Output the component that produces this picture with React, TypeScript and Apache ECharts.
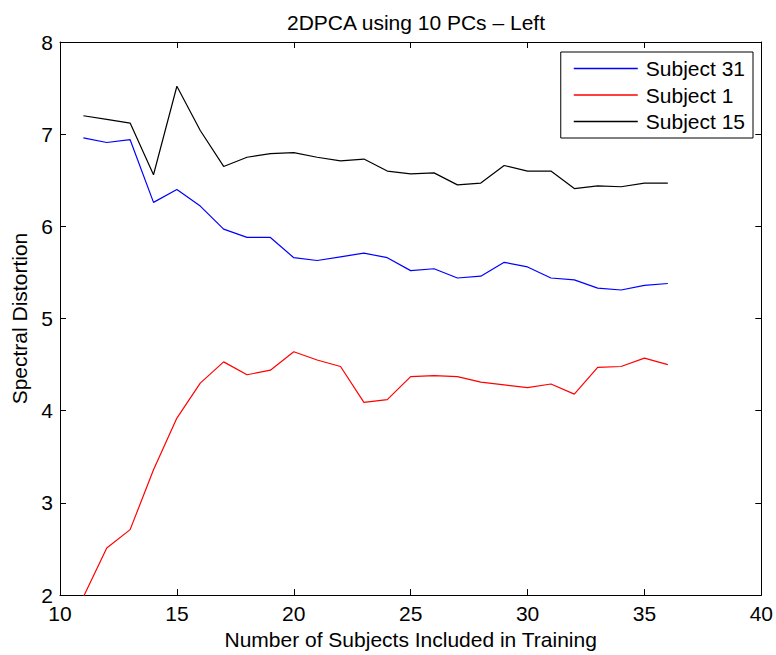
import React, { useEffect, useRef } from "react";
import * as echarts from "echarts";

const subjectsX = [11, 12, 13, 14, 15, 16, 17, 18, 19, 20, 21, 22, 23, 24, 25, 26, 27, 28, 29, 30, 31, 32, 33, 34, 35, 36];
const subject31 = [6.96, 6.91, 6.94, 6.26, 6.4, 6.22, 5.97, 5.88, 5.88, 5.66, 5.63, 5.67, 5.71, 5.66, 5.52, 5.54, 5.44, 5.46, 5.61, 5.56, 5.44, 5.42, 5.33, 5.31, 5.36, 5.38];
const subject1 = [1.98, 2.51, 2.71, 3.36, 3.92, 4.3, 4.53, 4.39, 4.44, 4.64, 4.55, 4.48, 4.09, 4.12, 4.37, 4.38, 4.37, 4.31, 4.28, 4.25, 4.29, 4.18, 4.47, 4.48, 4.57, 4.5];
const subject15 = [7.2, 7.16, 7.12, 6.56, 7.52, 7.04, 6.65, 6.75, 6.79, 6.8, 6.75, 6.71, 6.73, 6.6, 6.57, 6.58, 6.45, 6.47, 6.66, 6.6, 6.6, 6.41, 6.44, 6.43, 6.47, 6.47];
const seriesNames = ["Subject 31", "Subject 1", "Subject 15"];
const seriesColors = ["#0000ff", "#ff0000", "#000000"];

const FONT = "Liberation Sans";
const FS = 21;

export default function App() {
  const ref = useRef<HTMLDivElement>(null);
  useEffect(() => {
    if (!ref.current) return;
    const chart = echarts.init(ref.current, null, { renderer: "svg" });
    const pair = (ys: number[]) => subjectsX.map((x, i) => [x, ys[i]]);
    const datas = [subject31, subject1, subject15];
    const axisBase = {
      axisLine: { show: true, lineStyle: { color: "#000", width: 1 } },
      axisTick: { show: true, inside: true, length: 6, lineStyle: { color: "#000" } },
      splitLine: { show: false },
    };
    chart.setOption({
      animation: false,
      backgroundColor: "#fff",
      title: {
        text: "2DPCA using 10 PCs \u2013 Left",
        left: 411,
        textAlign: "center",
        top: 7,
        textStyle: { fontFamily: FONT, fontSize: FS, fontWeight: "normal", color: "#000" },
      },
      legend: {
        right: 23,
        top: 52,
        orient: "vertical",
        backgroundColor: "#fff",
        borderColor: "#000",
        borderWidth: 1,
        borderRadius: 0,
        padding: [6, 8, 6, 13],
        itemWidth: 64,
        itemHeight: 1.5,
        itemGap: 5.5,
        icon: "rect",
        textStyle: { fontFamily: FONT, fontSize: FS, color: "#000", padding: [0, 0, 0, 3] },
        data: seriesNames,
      },
      grid: { left: 60, right: 12, top: 42, bottom: 58, containLabel: false },
      xAxis: [
        {
          ...axisBase,
          type: "value",
          min: 10,
          max: 40,
          interval: 5,
          position: "bottom",
          name: "Number of Subjects Included in Training",
          nameLocation: "middle",
          nameGap: 27,
          nameTextStyle: { fontFamily: FONT, fontSize: FS, color: "#000" },
          axisLabel: { fontFamily: FONT, fontSize: FS, color: "#000", margin: 8 },
        },
        {
          ...axisBase,
          type: "value",
          min: 10,
          max: 40,
          interval: 5,
          position: "top",
          axisLabel: { show: false },
        },
      ],
      yAxis: [
        {
          ...axisBase,
          type: "value",
          min: 2,
          max: 8,
          interval: 1,
          position: "left",
          name: "Spectral Distortion",
          nameLocation: "middle",
          nameGap: 30,
          nameTextStyle: { fontFamily: FONT, fontSize: FS, color: "#000" },
          axisLabel: { fontFamily: FONT, fontSize: FS, color: "#000", margin: 7 },
        },
        {
          ...axisBase,
          type: "value",
          min: 2,
          max: 8,
          interval: 1,
          position: "right",
          axisLabel: { show: false },
        },
      ],
      series: datas.map((d, i) => ({
        name: seriesNames[i],
        type: "line",
        data: pair(d),
        xAxisIndex: 0,
        yAxisIndex: 0,
        showSymbol: false,
        symbol: "none",
        lineStyle: { color: seriesColors[i], width: 1.2 },
        itemStyle: { color: seriesColors[i] },
        clip: true,
      })),
    });
    return () => chart.dispose();
  }, []);
  return (
    <div
      ref={ref}
      style={{ position: "fixed", left: 0, top: 0, width: 776, height: 655, background: "#fff" }}
    />
  );
}
